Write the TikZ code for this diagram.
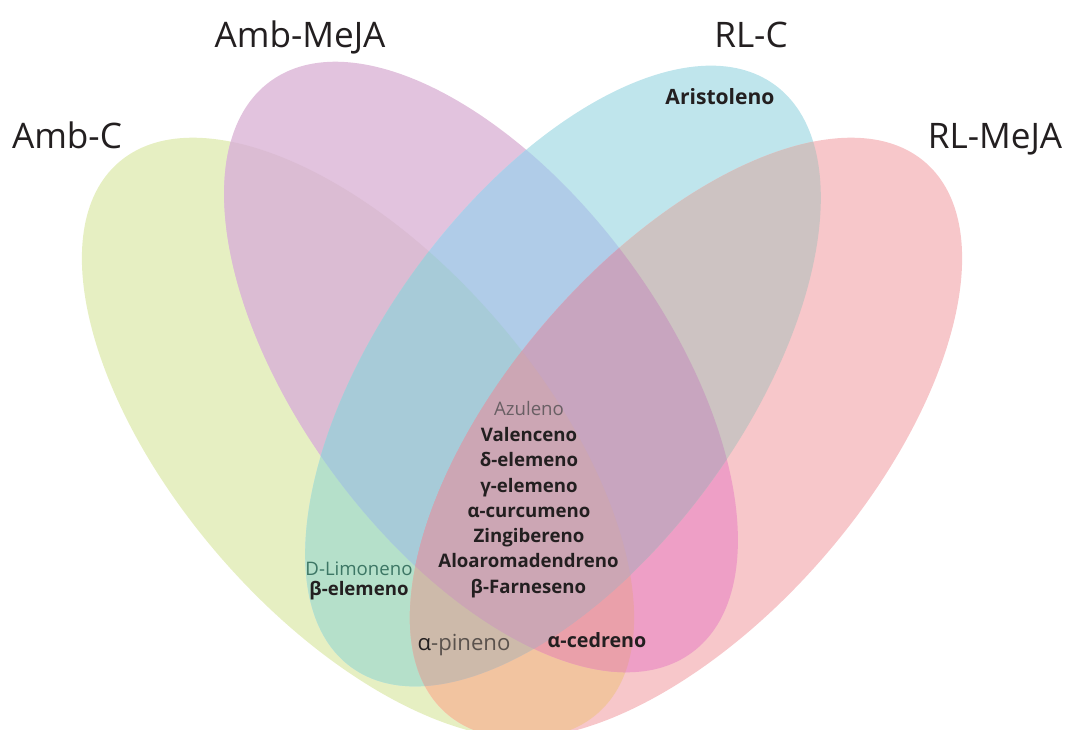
\documentclass[tikz,border=0pt]{standalone}
\usepackage{fontspec}
\setmainfont{Open Sans}
\definecolor{cY}{RGB}{230,239,194}
\definecolor{cP}{RGB}{226,195,222}
\definecolor{cC}{RGB}{191,229,236}
\definecolor{cR}{RGB}{247,199,202}
\definecolor{cYP}{RGB}{219,188,211}
\definecolor{cYC}{RGB}{181,224,202}
\definecolor{cYR}{RGB}{242,196,160}
\definecolor{cPC}{RGB}{176,204,232}
\definecolor{cPR}{RGB}{238,159,198}
\definecolor{cCR}{RGB}{205,195,194}
\definecolor{cYPC}{RGB}{167,203,216}
\definecolor{cYPR}{RGB}{234,160,170}
\definecolor{cYCR}{RGB}{205,186,170}
\definecolor{cPCR}{RGB}{200,165,191}
\definecolor{cYPCR}{RGB}{204,166,180}
\definecolor{cTxt}{RGB}{35,31,32}
\definecolor{cGrey}{RGB}{105,95,100}
\definecolor{cTeal}{RGB}{60,118,100}
\definecolor{cPin}{RGB}{90,82,77}
\newcommand\ellY[1]{\path[#1,rotate around={-49:(3.58,2.91)}] (3.58,2.91) ellipse (3.65 and 1.82);}
\newcommand\ellP[1]{\path[#1,rotate around={-53.5:(4.81,3.62)}] (4.81,3.62) ellipse (3.55 and 1.82);}
\newcommand\ellC[1]{\path[#1,rotate around={54:(5.63,3.53)}] (5.63,3.53) ellipse (3.60 and 1.82);}
\newcommand\ellR[1]{\path[#1,rotate around={49:(6.86,2.91)}] (6.86,2.91) ellipse (3.65 and 1.82);}
\tikzset{
  settitle/.style={font=\fontsize{10}{12}\selectfont, text=cTxt, anchor=base, inner sep=0pt},
  item/.style={font=\fontsize{5.3}{6}\selectfont\bfseries, text=cTxt, anchor=base, inner sep=0pt},
  itemlight/.style={font=\fontsize{5.3}{6}\selectfont, anchor=base, inner sep=0pt}
}
\begin{document}
\begin{tikzpicture}
\useasboundingbox (0,0) rectangle (10.65,7.29);
\begin{scope}
\clip (0,0) rectangle (10.65,7.29);
% single sets
\ellY{fill=cY}
\ellP{fill=cP}
\ellC{fill=cC}
\ellR{fill=cR}
% pairs
\begin{scope}\ellY{clip}\ellP{fill=cYP}\end{scope}
\begin{scope}\ellY{clip}\ellC{fill=cYC}\end{scope}
\begin{scope}\ellY{clip}\ellR{fill=cYR}\end{scope}
\begin{scope}\ellP{clip}\ellC{fill=cPC}\end{scope}
\begin{scope}\ellP{clip}\ellR{fill=cPR}\end{scope}
\begin{scope}\ellC{clip}\ellR{fill=cCR}\end{scope}
% triples
\begin{scope}\ellY{clip}\ellP{clip}\ellC{fill=cYPC}\end{scope}
\begin{scope}\ellY{clip}\ellP{clip}\ellR{fill=cYPR}\end{scope}
\begin{scope}\ellY{clip}\ellC{clip}\ellR{fill=cYCR}\end{scope}
\begin{scope}\ellP{clip}\ellC{clip}\ellR{fill=cPCR}\end{scope}
% all four
\begin{scope}\ellY{clip}\ellP{clip}\ellC{clip}\ellR{fill=cYPCR}\end{scope}
\end{scope}
% set titles
\node[settitle] (tAmbC) at (0.67,5.81) {Amb-C};
\node[settitle] (tAmbMeJA) at (3.00,6.82) {Amb-MeJA};
\node[settitle] (tRLC) at (7.51,6.82) {RL-C};
\node[settitle] (tRLMeJA) at (9.95,5.81) {RL-MeJA};
% members
\node[item, font=\fontsize{6}{7}\selectfont\bfseries] (aristoleno) at (7.20,6.25) {Aristoleno};
\node[itemlight, text=cGrey] (azuleno) at (5.29,3.14) {Azuleno};
\node[item] (valenceno) at (5.29,2.88) {Valenceno};
\node[item] (delem) at (5.29,2.63) {δ-elemeno};
\node[item] (gelem) at (5.29,2.37) {γ-elemeno};
\node[item] (acurc) at (5.29,2.12) {α-curcumeno};
\node[item] (zingib) at (5.29,1.87) {Zingibereno};
\node[item] (aloar) at (5.285,1.62) {Aloaromadendreno};
\node[item] (bfarn) at (5.285,1.36) {β-Farneseno};
\node[itemlight, text=cTeal] (dlimon) at (3.59,1.54) {D-Limoneno};
\node[item] (belem) at (3.59,1.34) {β-elemeno};
\node[itemlight, font=\fontsize{6.3}{7}\selectfont, text=cPin] (apin) at (4.64,0.79) {\textcolor{cTxt}{α}-pineno};
\node[item, font=\fontsize{5.6}{7}\selectfont\bfseries] (acedr) at (5.97,0.82) {α-cedreno};
\end{tikzpicture}
\end{document}
